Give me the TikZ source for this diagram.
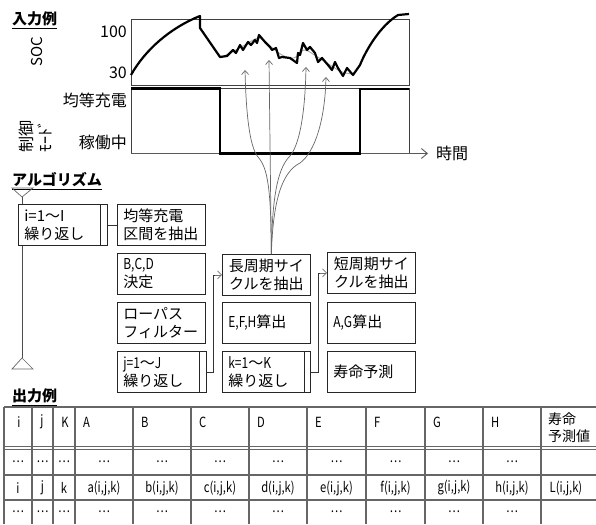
\documentclass[tikz,border=0pt]{standalone}
\usepackage{fontspec}
\setmainfont{Noto Sans CJK JP}
\newfontfamily\nar[FakeStretch=0.8]{Noto Sans CJK JP}
\usetikzlibrary{arrows.meta}
\begin{document}
\begin{tikzpicture}[x=1pt,y=-1pt,
  lbl/.style={inner sep=0pt},
  head/.style={inner sep=0pt, anchor=west, font=\fontsize{15}{18}\selectfont\bfseries},
  box/.style={draw=black!85, line width=0.7pt, fill=white, anchor=north west, inner xsep=6pt, inner ysep=0pt, text width=76pt, minimum height=41pt, align=left, font=\fontsize{15}{18}\selectfont},
  loopbox/.style={box, text width=70pt},
  cbox/.style={box, align=center},
  conn/.style={draw=black!80, line width=0.7pt},
  tip/.style={-{Straight Barb[length=4pt,width=8pt]}},
  sigarrow/.style={draw=black!60, line width=0.7pt, -{Straight Barb[length=4pt,width=7pt]}},
  grid/.style={draw=black!60, line width=1.1pt},
  tcell/.style={inner sep=0pt, font=\fontsize{14}{17}\selectfont\nar},
]
\useasboundingbox (0,0) rectangle (596,524);

% ---------- headings ----------
\node[head] (hin) at (12,19) {入力例};
\draw[line width=0.8pt] ([yshift=-2pt]hin.south west) -- ([yshift=-2pt]hin.south east);
\node[head] (halg) at (12,180) {アルゴリズム};
\draw[line width=0.8pt] ([yshift=-2pt]halg.south west) -- ([yshift=-2pt]halg.south east);
\node[head] (hout) at (12,396) {出力例};
\draw[line width=0.8pt] ([yshift=-2pt]hout.south west) -- ([yshift=-2pt]hout.south east);

% ---------- chart frames ----------
\draw[draw=black!75, line width=0.7pt] (131,19) rectangle (409,85.5);
\draw[draw=black!75, line width=0.7pt] (131,88.5) rectangle (409,153.5);
\coordinate (ax0) at (131,153.5);
\coordinate (ax1) at (428,153.5);
\draw[draw=black!65, line width=0.9pt, -{Straight Barb[length=6pt,width=10pt]}] (ax0) -- (ax1);
\node[lbl, anchor=west, font=\fontsize{16}{18}\selectfont] (tlab) at (436,153) {時間};

% axis labels
\node[lbl, anchor=east, font=\fontsize{16}{18}\selectfont] (l100) at (127,32) {100};
\node[lbl, anchor=east, font=\fontsize{16}{18}\selectfont] (l30) at (127,73) {30};
\node[lbl, rotate=90, font=\fontsize{15}{18}\selectfont] (lsoc) at (37,52) {SOC};
\node[lbl, anchor=east, font=\fontsize{16}{18}\selectfont] (lchg) at (127,100) {均等充電};
\node[lbl, anchor=east, font=\fontsize{16}{18}\selectfont] (lrun) at (127,142) {稼働中};
\node[lbl, rotate=90, anchor=west, align=left, font=\fontsize{16}{19}\selectfont] (lmode) at (36,153) {制御\\ﾓｰﾄﾞ};

% mode signal
\draw[line width=2.2pt] (131,88.5) -- (220,88.5) -- (220,153.5) -- (360,153.5) -- (360,89) -- (409,89);

% SOC smoothed (grey)
\draw[gray!70, line width=0.9pt] plot[smooth, tension=0.6] coordinates {(222,57) (232,52) (245,45) (259,38) (270,46) (282,55) (294,58) (304,50) (316,56) (330,65) (342,72) (353,74)};
% SOC curve
\draw[line width=2.2pt, line join=round] (131,75) .. controls (145,50) and (170,28) .. (200,16) -- (200,28) -- (220,57) -- (227,56) -- (233,50) -- (236,53) -- (240,45) -- (243,50) -- (248,42) -- (251,45) -- (255,40) -- (257,43) -- (259,35) -- (265,42) -- (270,47) -- (272,50) -- (276,48) -- (279,58) -- (282,57) -- (290,58) -- (297,63) -- (298,53) -- (300,55) -- (303,43) -- (307,50) -- (310,47) -- (315,53) -- (318,62) -- (322,58) -- (328,65) -- (332,70) -- (335,62) -- (338,68) -- (343,76) -- (347,68) -- (353,75) -- (360,65) .. controls (366,50) and (380,26) .. (398,15) -- (409,14);

% ---------- algorithm ----------
\coordinate (ta) at (22,197);
\coordinate (ba) at (22,358);
\draw[draw=black!70, line width=0.7pt] (ta) -- (ba);
\draw[draw=black!60, line width=0.7pt] (12,188) -- (33,188) -- (ta) -- cycle;
\draw[draw=black!60, line width=0.7pt] (ba) -- (33,369) -- (12,369) -- cycle;

\node[loopbox] (il) at (18,204) {i=1～I\\繰り返し};
\draw[draw=black!85, line width=0.7pt] (il.north east) rectangle ([xshift=7pt]il.south east);

\node[box] (n1) at (117,204) {均等充電\\区間を抽出};
\node[box] (n2) at (117,253) {{\nar B,C,D}\\決定};
\node[box] (n3) at (117,302) {ローパス\\フィルター};
\node[loopbox] (jl) at (117,351) {{\nar j=1}～{\nar J}\\繰り返し};
\draw[draw=black!85, line width=0.7pt] (jl.north east) rectangle ([xshift=7pt]jl.south east);

\node[cbox] (lc) at (222,254) {長周期サイ\\クルを抽出};
\node[box] (efh) at (222,302) {{\nar E,F,H}算出};
\node[loopbox] (kl) at (222,351) {{\nar k=1}～{\nar K}\\繰り返し};
\draw[draw=black!85, line width=0.7pt] (kl.north east) rectangle ([xshift=6pt]kl.south east);

\node[cbox] (sc) at (327,252) {短周期サイ\\クルを抽出};
\node[box] (ag) at (327,302) {{\nar A,G}算出};
\node[box] (lf) at (327,351) {寿命予測};

% connectors
\draw[conn] ([xshift=7pt]il.east) -- (n1.west |- il.east);
\draw[conn] ([xshift=7pt]jl.east) -- ++(7,0) |- ([xshift=-1pt]lc.west);
\draw[draw=black!55, line width=0.7pt, tip] ([xshift=-7pt]lc.west) -- (lc.west);
\draw[conn] ([xshift=6pt]kl.east) -- ++(8,0) |- ([xshift=-1pt]sc.west);
\draw[draw=black!55, line width=0.7pt, tip] ([xshift=-7pt]sc.west) -- (sc.west);

% signal arrows
\coordinate (t1) at (245,70);
\coordinate (t2) at (269,60);
\coordinate (t3) at (306,67);
\coordinate (t4) at (326,77);
\coordinate (b0) at ([xshift=5pt]lc.north);
\draw[sigarrow] (b0) .. controls (271,190) and (268,168) .. (258,157) .. controls (249,146) and (246,110) .. (t1);
\draw[sigarrow] (b0) -- (t2);
\draw[sigarrow] (b0) .. controls (272,200) and (277,170) .. (289,157) .. controls (298,148) and (305,120) .. (t3);
\draw[sigarrow] (b0) .. controls (273,200) and (282,172) .. (300,163) .. controls (315,152) and (325,120) .. (t4);

% ---------- table ----------
\foreach \y in {407,446.5,449.5,475,500} {\draw[grid] (4,\y) -- (596,\y);}
\foreach \x in {4,32,53,75,133,191,249,307,366,425,483,541} {\draw[grid] (\x,407) -- (\x,524);}

\node[tcell] (hi) at (19,422) {i};
\node[tcell] (hj) at (42,422) {j};
\node[tcell] (hk) at (65,422) {K};
\foreach \x/\t [count=\n] in {75/A,133/B,191/C,249/D,307/E,366/F,425/G,483/H} {
  \node[tcell, anchor=west] (hc\n) at (\x+8,422) {\t};
}
\node[inner sep=0pt, anchor=north west, align=left, font=\fontsize{14}{17}\selectfont] (hl) at (548,413) {寿命\\予測値};

\foreach \x [count=\n] in {18,42.5,64,104,162,220,278,336.5,395.5,454,512} {
  \node[tcell] (ra\n) at (\x,462) {…};
  \node[tcell] (rc\n) at (\x,512) {…};
}
\node[tcell] (rbi) at (18,488) {i};
\node[tcell] (rbj) at (42.5,488) {j};
\node[tcell] (rbk) at (64,488) {k};
\foreach \x/\t [count=\n] in {104/a,162/b,220/c,278/d,336.5/e,395.5/f,454/g,512/h} {
  \node[tcell] (rb\n) at (\x,488) {\t(i,j,k)};
}
\node[tcell] (rbl) at (566,488) {L(i,j,k)};
\end{tikzpicture}
\end{document}
